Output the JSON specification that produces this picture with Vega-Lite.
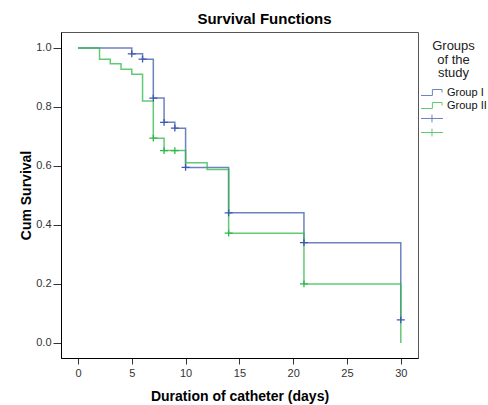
{
  "$schema": "https://vega.github.io/schema/vega-lite/v6.json",
  "width": 357,
  "height": 326,
  "autosize": {"type": "none"},
  "padding": {"left": 61, "top": 32, "right": 70, "bottom": 47},
  "background": "white",
  "title": {"text": "Survival Functions", "anchor": "middle", "frame": "group", "dx": 25, "offset": 5, "font": "Liberation Sans", "fontSize": 15, "fontWeight": "bold", "color": "#000"},
  "datasets": {
    "km": [
      {"g": "Group I", "t": 0, "s": 1.0},
      {"g": "Group I", "t": 5, "s": 0.98},
      {"g": "Group I", "t": 6, "s": 0.962},
      {"g": "Group I", "t": 7, "s": 0.83},
      {"g": "Group I", "t": 8, "s": 0.748},
      {"g": "Group I", "t": 9, "s": 0.728},
      {"g": "Group I", "t": 10, "s": 0.595},
      {"g": "Group I", "t": 14, "s": 0.441},
      {"g": "Group I", "t": 21, "s": 0.34},
      {"g": "Group I", "t": 30, "s": 0.078},
      {"g": "Group II", "t": 0, "s": 1.0},
      {"g": "Group II", "t": 2, "s": 0.962},
      {"g": "Group II", "t": 3, "s": 0.946},
      {"g": "Group II", "t": 4, "s": 0.928},
      {"g": "Group II", "t": 5, "s": 0.911},
      {"g": "Group II", "t": 6, "s": 0.82},
      {"g": "Group II", "t": 7, "s": 0.694},
      {"g": "Group II", "t": 8, "s": 0.652},
      {"g": "Group II", "t": 10, "s": 0.611},
      {"g": "Group II", "t": 12, "s": 0.588},
      {"g": "Group II", "t": 14, "s": 0.372},
      {"g": "Group II", "t": 21, "s": 0.2},
      {"g": "Group II", "t": 30, "s": 0.0}
    ],
    "cens": [
      {"g": "cI", "t": 5, "s": 0.98},
      {"g": "cI", "t": 6, "s": 0.962},
      {"g": "cI", "t": 7, "s": 0.83},
      {"g": "cI", "t": 8, "s": 0.748},
      {"g": "cI", "t": 9, "s": 0.728},
      {"g": "cI", "t": 10, "s": 0.595},
      {"g": "cI", "t": 14, "s": 0.441},
      {"g": "cI", "t": 21, "s": 0.34},
      {"g": "cI", "t": 30, "s": 0.078},
      {"g": "cII", "t": 7, "s": 0.694},
      {"g": "cII", "t": 8, "s": 0.652},
      {"g": "cII", "t": 9, "s": 0.652},
      {"g": "cII", "t": 14, "s": 0.372},
      {"g": "cII", "t": 21, "s": 0.2}
    ]
  },
  "encoding": {
    "x": {"field": "t", "type": "quantitative",
      "scale": {"domain": [-1.58, 31.6], "nice": false, "zero": false},
      "axis": {"title": "Duration of catheter (days)", "values": [0, 5, 10, 15, 20, 25, 30], "grid": false, "tickSize": 6, "labelPadding": 3, "titlePadding": 11}},
    "y": {"field": "s", "type": "quantitative",
      "scale": {"domain": [-0.051, 1.054], "nice": false, "zero": false},
      "axis": {"title": "Cum Survival", "values": [0, 0.2, 0.4, 0.6, 0.8, 1.0], "format": ".1f", "grid": false, "tickSize": 8, "labelPadding": 2, "titlePadding": 2}},
    "color": {"field": "g", "type": "nominal",
      "scale": {"domain": ["Group I", "Group II", "cI", "cII"], "range": ["#3e58ac", "#2eb848", "#3e58ac", "#2eb848"]},
      "legend": {
        "title": ["Groups", "of the", "study"],
        "titleAlign": "center",
        "titleAnchor": "middle",
        "titleFont": "Liberation Sans",
        "titleFontSize": 13,
        "titleFontWeight": "normal",
        "titleColor": "#222",
        "titleLineHeight": 13.5,
        "titlePadding": 6,
        "orient": "none",
        "legendX": 359.5,
        "legendY": 8,
        "padding": 0,
        "symbolSize": 144,
        "symbolStrokeWidth": 1,
        "symbolType": {"expr": "(datum.value === 'cI' || datum.value === 'cII') ? 'M-1,0H2.67M0.83,-0.65V0.65' : 'M-1,0.5H0.9V-0.5H2.5V0'"},
        "labelExpr": "(datum.value === 'cI' || datum.value === 'cII') ? '' : datum.label",
        "labelFont": "Liberation Sans",
        "labelFontSize": 11,
        "labelColor": "#111",
        "labelOffset": 13.5,
        "rowPadding": 1
      }}
  },
  "layer": [
    {"data": {"name": "km"}, "mark": {"type": "line", "interpolate": "step-after", "strokeWidth": 1.5, "opacity": 0.75}},
    {"data": {"name": "cens"}, "mark": {"type": "point", "shape": "M-1,0H1M0,-0.85V0.85", "filled": false, "size": 64, "strokeWidth": 1.3, "opacity": 1}}
  ],
  "config": {
    "view": {"stroke": "#555", "strokeWidth": 1},
    "axis": {"domainColor": "#000", "tickColor": "#333", "labelFont": "Liberation Sans", "labelFontSize": 11, "labelColor": "#333", "titleFont": "Liberation Sans", "titleFontSize": 14, "titleFontWeight": "bold", "titleColor": "#000"}
  }
}
